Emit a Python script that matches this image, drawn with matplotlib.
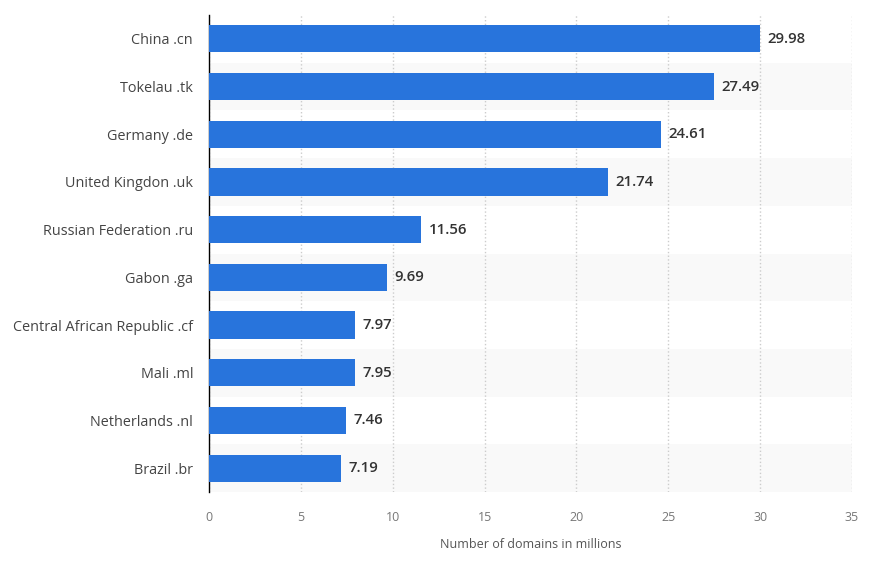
import matplotlib.pyplot as plt
import numpy as np

countries = ['China .cn', 'Tokelau .tk', 'Germany .de', 'United Kingdon .uk',
             'Russian Federation .ru', 'Gabon .ga', 'Central African Republic .cf',
             'Mali .ml', 'Netherlands .nl', 'Brazil .br']
domains = [29.98, 27.49, 24.61, 21.74, 11.56, 9.69, 7.97, 7.95, 7.46, 7.19]
x_ticks = [0, 5, 10, 15, 20, 25, 30, 35]

plt.rcParams['font.family'] = ['Open Sans', 'DejaVu Sans']

fig = plt.figure(figsize=(8.77, 5.66), dpi=100)
ax = fig.add_axes([0.2383, 0.1307, 0.7332, 0.8428])

y = np.arange(len(countries))

# Alternating row bands
for i in y:
    if i % 2 == 1:
        ax.axhspan(i - 0.5, i + 0.5, color='#f9f9f9', zorder=0, lw=0)

ax.barh(y, domains, height=0.57, color='#2874dc', zorder=3)

for yi, v in zip(y, domains):
    ax.text(v + 0.4, yi, '%.2f' % v, va='center', ha='left', fontsize=10.8,
            fontweight='semibold', color='#333333', zorder=4)

ax.set_xlim(0, 35)
ax.set_ylim(len(countries) - 0.5, -0.5)
ax.set_xticks(x_ticks)
ax.set_yticks(y)
ax.set_yticklabels(countries)
ax.grid(axis='x', linestyle=':', color='#cccccc', linewidth=1, zorder=1)
ax.set_axisbelow(True)

for s in ['top', 'right', 'bottom']:
    ax.spines[s].set_visible(False)
ax.spines['left'].set_color('black')
ax.spines['left'].set_linewidth(1)

ax.tick_params(axis='y', length=0, pad=11.5, labelsize=10.4, labelcolor='#444444')
ax.tick_params(axis='x', length=0, pad=14, labelsize=9, labelcolor='#777777')
ax.set_xlabel('Number of domains in millions', fontsize=9, color='#555555', labelpad=10)

fig.savefig('out.png', dpi=100)
